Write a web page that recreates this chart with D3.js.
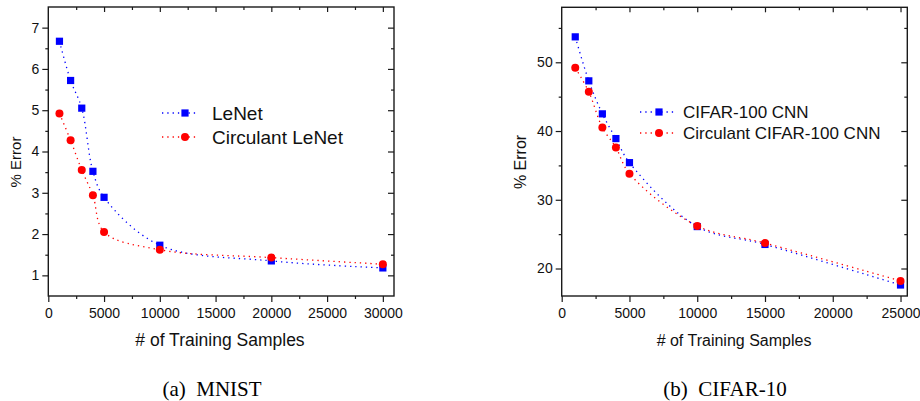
<!DOCTYPE html>
<html>
<head>
<meta charset="utf-8">
<script src="https://cdn.jsdelivr.net/npm/d3@7"></script>
<style>
  body { margin: 0; background: #fff; }
  svg { display: block; font-family: "Liberation Sans", Arial, sans-serif; }
  .caption { font-family: "Liberation Serif", "Times New Roman", serif; }
</style>
</head>
<body>
<script>
// data
const mnistSamples = [1000, 2000, 3000, 4000, 5000, 10000, 20000, 30000]
const lenetError = [6.67, 5.72, 5.05, 3.52, 2.89, 1.73, 1.35, 1.18]
const circLenetError = [4.92, 4.27, 3.55, 2.94, 2.05, 1.62, 1.43, 1.27]

const cifarSamples = [1000, 2000, 3000, 4000, 5000, 10000, 15000, 25000]
const cifarCnnError = [53.7, 47.3, 42.5, 38.9, 35.4, 26.1, 23.5, 17.6]
const circCifarCnnError = [49.2, 45.7, 40.5, 37.6, 33.8, 26.2, 23.7, 18.2]

const mnistXTicks = [0, 5000, 10000, 15000, 20000, 25000, 30000]
const mnistYTicks = [1, 2, 3, 4, 5, 6, 7]
const cifarXTicks = [0, 5000, 10000, 15000, 20000, 25000]
const cifarYTicks = [20, 30, 40, 50]

const w = 920
const h = 401
const blue = '#0000ff'
const red = '#ff0000'

const svg = d3.select('body').append('svg')
    .attr('width', w)
    .attr('height', h)

function panel(opt) {
    const x = d3.scaleLinear().domain(opt.xDomain).range(opt.xRange)
    const y = d3.scaleLinear().domain(opt.yDomain).range(opt.yRange)
    const g = svg.append('g')
    const [x0, x1] = opt.xRange
    const [y0, y1] = opt.yRange

    // minor tick positions halfway between majors
    const xStep = opt.xTicks[1] - opt.xTicks[0]
    const yStep = opt.yTicks[1] - opt.yTicks[0]
    const xMinor = d3.range(opt.xTicks[0] + xStep / 2, opt.xDomain[1], xStep)
    const yMinor = d3.range(opt.yTicks[0] - yStep / 2, opt.yDomain[1], yStep)
        .filter(v => v > opt.yDomain[0] && v < opt.yDomain[1])

    const axisStyle = sel => {
        sel.select('.domain').remove()
        sel.selectAll('line').attr('stroke', '#1a1a1a').attr('stroke-width', 1.2)
        sel.selectAll('text').attr('fill', '#111').style('font-size', '14px')
            .style('font-family', '"Liberation Sans", Arial, sans-serif')
    }

    // bottom axis, outward ticks
    g.append('g').attr('transform', `translate(0,${y0})`)
        .call(d3.axisBottom(x).tickValues(opt.xTicks).tickSize(6).tickPadding(6).tickFormat(d3.format('d')))
        .call(axisStyle)
    g.append('g').attr('transform', `translate(0,${y0})`)
        .call(d3.axisBottom(x).tickValues(xMinor).tickSize(3).tickFormat(''))
        .call(axisStyle)
    // top axis, inward ticks
    g.append('g').attr('transform', `translate(0,${y1})`)
        .call(d3.axisBottom(x).tickValues(opt.xTicks.slice(1)).tickSize(5).tickFormat(''))
        .call(axisStyle)
    g.append('g').attr('transform', `translate(0,${y1})`)
        .call(d3.axisBottom(x).tickValues(xMinor).tickSize(3).tickFormat(''))
        .call(axisStyle)
    // left axis, outward ticks
    g.append('g').attr('transform', `translate(${x0},0)`)
        .call(d3.axisLeft(y).tickValues(opt.yTicks).tickSize(6).tickPadding(3).tickFormat(d3.format('d')))
        .call(axisStyle)
    g.append('g').attr('transform', `translate(${x0},0)`)
        .call(d3.axisLeft(y).tickValues(yMinor).tickSize(3).tickFormat(''))
        .call(axisStyle)
    // right axis, inward ticks
    g.append('g').attr('transform', `translate(${x1},0)`)
        .call(d3.axisLeft(y).tickValues(opt.yTicks).tickSize(6).tickFormat(''))
        .call(axisStyle)
    g.append('g').attr('transform', `translate(${x1},0)`)
        .call(d3.axisLeft(y).tickValues(yMinor).tickSize(3).tickFormat(''))
        .call(axisStyle)

    // frame
    g.append('rect')
        .attr('x', x0).attr('y', y1)
        .attr('width', x1 - x0).attr('height', y0 - y1)
        .attr('fill', 'none').attr('stroke', '#1a1a1a').attr('stroke-width', 1.4)

    const line = d3.line()
        .x(d => x(d[0]))
        .y(d => y(d[1]))
        .curve(d3.curveCatmullRom.alpha(0.5))

    opt.series.forEach(s => {
        const pts = opt.samples.map((v, i) => [v, s.values[i]])
        g.append('path')
            .attr('d', line(pts))
            .attr('fill', 'none')
            .attr('stroke', s.color)
            .attr('stroke-width', 1.3)
            .attr('stroke-dasharray', '1.3,4')
        drawMarkers(g, pts.map(p => [x(p[0]), y(p[1])]), s)
    })

    // legend
    opt.series.forEach((s, i) => {
        const ly = opt.legend.y + i * opt.legend.dy
        g.append('line')
            .attr('x1', opt.legend.x1).attr('x2', opt.legend.x2)
            .attr('y1', ly).attr('y2', ly)
            .attr('stroke', s.color).attr('stroke-width', 1.3)
            .attr('stroke-dasharray', '1.3,4')
        drawMarkers(g, [[opt.legend.mx, ly]], s)
        g.append('text')
            .attr('x', opt.legend.tx).attr('y', ly)
            .attr('dy', '0.35em')
            .style('font-size', opt.legend.size + 'px')
            .attr('fill', '#111')
            .text(s.name)
    })

    // axis titles
    g.append('text')
        .attr('x', opt.xTitle[0]).attr('y', opt.xTitle[1])
        .attr('dy', '0.35em')
        .attr('text-anchor', 'middle')
        .style('font-size', opt.xTitle[2] + 'px')
        .attr('fill', '#111')
        .text('# of Training Samples')
    g.append('text')
        .attr('transform', `translate(${opt.yTitle[0]},${opt.yTitle[1]}) rotate(-90)`)
        .attr('dy', '0.35em')
        .attr('text-anchor', 'middle')
        .style('font-size', opt.yTitle[2] + 'px')
        .attr('fill', '#111')
        .text('% Error')

    // caption
    g.append('text')
        .attr('class', 'caption')
        .attr('x', opt.caption[0]).attr('y', opt.caption[1])
        .attr('dy', '0.35em')
        .attr('text-anchor', 'middle')
        .style('font-size', '21px')
        .attr('fill', '#000')
        .text(opt.caption[2])
}

function drawMarkers(g, pts, s) {
    if (s.shape === 'square') {
        g.selectAll(null).data(pts).enter().append('rect')
            .attr('x', d => d[0] - 3.6).attr('y', d => d[1] - 3.6)
            .attr('width', 7.2).attr('height', 7.2)
            .attr('fill', s.color)
    } else {
        g.selectAll(null).data(pts).enter().append('circle')
            .attr('cx', d => d[0]).attr('cy', d => d[1])
            .attr('r', 4)
            .attr('fill', s.color)
    }
}

// (a) MNIST
panel({
    xDomain: [0, 31000], xRange: [48.3, 394],
    yDomain: [0.5, 7.5], yRange: [296, 7],
    xTicks: mnistXTicks, yTicks: mnistYTicks,
    samples: mnistSamples,
    series: [
        { name: 'LeNet', values: lenetError, color: blue, shape: 'square' },
        { name: 'Circulant LeNet', values: circLenetError, color: red, shape: 'circle' }
    ],
    legend: { x1: 162, x2: 197, mx: 185, tx: 212, y: 113, dy: 24, size: 19 },
    xTitle: [220, 340, 17.5],
    yTitle: [16, 162, 15],
    caption: [212, 389, '(a)\u00a0\u00a0MNIST']
})

// (b) CIFAR-10
panel({
    xDomain: [0, 25500], xRange: [561.7, 907.3],
    yDomain: [16, 58], yRange: [296, 7.3],
    xTicks: cifarXTicks, yTicks: cifarYTicks,
    samples: cifarSamples,
    series: [
        { name: 'CIFAR-100 CNN', values: cifarCnnError, color: blue, shape: 'square' },
        { name: 'Circulant CIFAR-100 CNN', values: circCifarCnnError, color: red, shape: 'circle' }
    ],
    legend: { x1: 640, x2: 677, mx: 659, tx: 683, y: 112, dy: 21, size: 17 },
    xTitle: [734, 340, 16],
    yTitle: [520, 162, 16],
    caption: [725, 389, '(b)\u00a0\u00a0CIFAR-10']
})
</script>
</body>
</html>
